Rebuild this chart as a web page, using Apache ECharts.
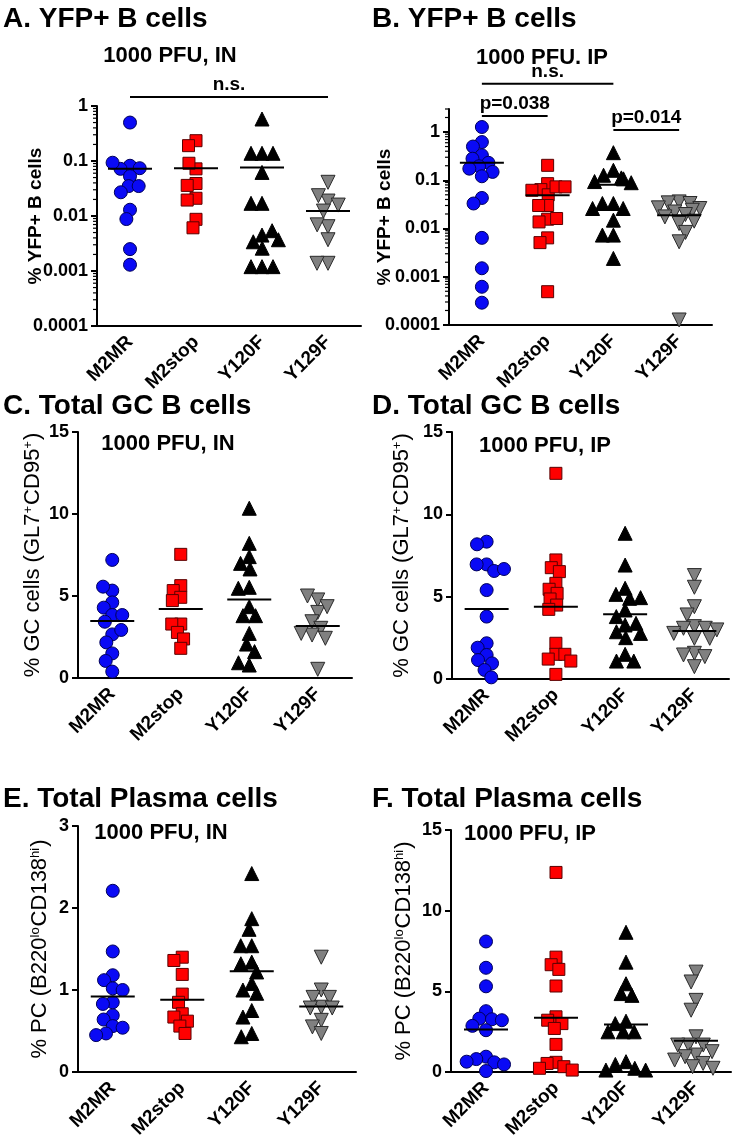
<!DOCTYPE html>
<html><head><meta charset="utf-8">
<script src="https://cdn.jsdelivr.net/npm/echarts@6/dist/echarts.min.js"></script>
<style>html,body{margin:0;padding:0;background:#fff}#c{width:738px;height:1148px}</style>
</head><body><div id="c"></div>
<script>
const categories = ['M2MR', 'M2stop', 'Y120F', 'Y129F'];

// A: % YFP+ B cells, 1000 PFU IN (log scale)
const yfpIN = [
  [0.50, 0.082, 0.072, 0.074, 0.093, 0.053, 0.035, 0.035, 0.027, 0.013, 0.0088, 0.0025, 0.0013],
  [0.234, 0.19, 0.072, 0.091, 0.039, 0.036, 0.021, 0.0195, 0.0087, 0.0061],
  [0.58, 0.138, 0.138, 0.138, 0.062, 0.017, 0.017, 0.0045, 0.0054, 0.0034, 0.0037, 0.0026, 0.0012, 0.0012, 0.0012],
  [0.041, 0.0187, 0.0234, 0.0158, 0.0123, 0.0064, 0.0069, 0.0037, 0.00138, 0.00138]
];
const yfpINMean = [0.072, 0.074, 0.076, 0.0123];

// B: % YFP+ B cells, 1000 PFU IP (log scale)
const yfpIP = [
  [1.27, 0.62, 0.50, 0.33, 0.28, 0.23, 0.195, 0.174, 0.149, 0.121, 0.043, 0.033, 0.0064, 0.0015, 0.00062, 0.00029],
  [0.204, 0.085, 0.064, 0.050, 0.073, 0.062, 0.073, 0.030, 0.030, 0.0156, 0.0137, 0.0161, 0.0064, 0.0051, 0.00049],
  [0.373, 0.161, 0.127, 0.112, 0.089, 0.094, 0.107, 0.033, 0.033, 0.026, 0.026, 0.0149, 0.0073, 0.0073, 0.0024],
  [0.0356, 0.034, 0.033, 0.0268, 0.026, 0.0239, 0.022, 0.0195, 0.0174, 0.0142, 0.0127, 0.0083, 0.0053, 0.000127]
];
const yfpIPMean = [0.232, 0.049, 0.081, 0.0188];

// C: % GC cells, 1000 PFU IN
const gcIN = [
  [7.2, 5.33, 5.57, 4.61, 4.29, 3.84, 3.84, 3.43, 2.66, 2.93, 2.17, 1.50, 1.04, 0.39],
  [7.54, 5.63, 5.33, 4.92, 4.72, 3.29, 3.29, 2.78, 2.38, 1.81],
  [10.35, 8.21, 7.40, 6.99, 6.65, 5.53, 5.47, 4.35, 3.80, 3.80, 2.72, 2.07, 1.61, 0.79, 0.93],
  [4.76, 5.0, 4.0, 4.35, 3.43, 3.03, 2.62, 2.42, 2.72, 0.53]
];
const gcINMean = [3.48, 4.21, 4.78, 3.17];

// D: % GC cells, 1000 PFU IP
const gcIP = [
  [8.34, 8.18, 6.96, 6.96, 6.56, 6.68, 5.40, 3.79, 2.17, 1.90, 1.46, 1.15, 0.95, 0.55, 0.10],
  [12.49, 7.23, 6.76, 6.52, 5.81, 5.45, 5.20, 4.86, 4.49, 4.23, 2.17, 1.50, 1.21, 1.50, 1.09, 0.28],
  [8.85, 6.92, 5.51, 5.14, 4.90, 4.94, 4.19, 3.79, 3.28, 3.38, 2.87, 2.77, 2.51, 1.50, 1.09, 1.09],
  [6.28, 5.57, 4.39, 3.89, 3.18, 3.08, 3.08, 2.77, 2.47, 2.47, 2.98, 1.56, 1.46, 1.36, 0.75]
];
const gcIPMean = [4.25, 4.39, 3.93, 2.92];

// E: % PC, 1000 PFU IN
const pcIN = [
  [2.21, 1.47, 1.18, 1.12, 1.02, 1.00, 0.85, 0.83, 0.69, 0.64, 0.56, 0.54, 0.47, 0.45],
  [1.40, 1.36, 1.19, 0.95, 0.85, 0.71, 0.67, 0.62, 0.56, 0.47],
  [2.42, 1.87, 1.74, 1.54, 1.54, 1.34, 1.32, 1.22, 1.08, 1.00, 0.96, 0.75, 0.67, 0.47, 0.43],
  [1.40, 1.00, 0.91, 0.91, 0.79, 0.78, 0.78, 0.63, 0.55, 0.47]
];
const pcINMean = [0.92, 0.88, 1.23, 0.80];

// F: % PC, 1000 PFU IP
const pcIP = [
  [8.09, 6.46, 5.31, 3.77, 3.31, 3.27, 3.21, 2.86, 2.59, 0.95, 0.80, 0.60, 0.47, 0.64, 0.06],
  [12.37, 7.12, 6.65, 6.36, 5.33, 3.42, 3.21, 3.00, 2.70, 1.71, 0.60, 0.53, 0.33, 0.23, 0.12],
  [8.66, 6.81, 5.47, 4.86, 4.75, 3.15, 3.00, 2.49, 2.49, 2.49, 0.64, 0.47, 0.23, 0.12, 0.12],
  [6.19, 5.58, 4.44, 3.83, 2.18, 1.67, 1.67, 1.67, 1.26, 1.05, 0.95, 0.74, 0.53, 0.33, 0.23]
];
const pcIPMean = [2.63, 3.37, 2.94, 1.93];

// significance annotations (panel index, from, to, y in data units, label)
const sigBars = [
  [0, 'M2MR', 'Y129F', 1.45, 'n.s.'],
  [1, 'M2MR', 'Y120F', 10, 'n.s.'],
  [1, 'M2MR', 'M2stop', 2.15, 'p=0.038'],
  [1, 'Y120F', 'Y129F', 1.1, 'p=0.014']
];

const panelTitles = ['A. YFP+ B cells', 'B. YFP+ B cells', 'C. Total GC B cells', 'D. Total GC B cells', 'E. Total Plasma cells', 'F. Total Plasma cells'];
const subTitles = ['1000 PFU, IN', '1000 PFU. IP', '1000 PFU, IN', '1000 PFU, IP', '1000 PFU, IN', '1000 PFU, IP'];

const FONT = '"Liberation Sans", Arial, Helvetica, sans-serif';
const groupStyle = [
  { symbol: 'circle', size: 13, rotate: 0, color: '#0a0af5', border: '#00005a' },
  { symbol: 'rect', size: 12, rotate: 0, color: '#ff0000', border: '#5a0000' },
  { symbol: 'triangle', size: 14, rotate: 0, color: '#000000', border: '#000000' },
  { symbol: 'triangle', size: 14, rotate: 180, color: '#808080', border: '#2a2a2a' }
];

const gcName = '% GC cells (GL7{sup|+}CD95{sup|+})';
const pcName = '% PC (B220{sup|lo}CD138{sup|hi})';
const panels = [
  { data: yfpIN, means: yfpINMean, log: true, min: 0.0001, max: 1, grid: { left: 97, top: 106, width: 264, height: 220 }, name: '% YFP+ B cells', nameGap: 52, bold: true, nameSize: 19, titlePos: [3, 19], subPos: [170, 56] },
  { data: yfpIP, means: yfpIPMean, log: true, min: 0.0001, max: 3, grid: { left: 449, top: 109, width: 263, height: 216 }, name: '% YFP+ B cells', nameGap: 55, bold: true, nameSize: 19, titlePos: [372, 19], subPos: [542, 58] },
  { data: gcIN, means: gcINMean, min: 0, max: 15, interval: 5, grid: { left: 78, top: 432, width: 274, height: 246 }, name: gcName, nameGap: 34, nameSize: 22, titlePos: [3, 406], subPos: [168, 444] },
  { data: gcIP, means: gcIPMean, min: 0, max: 15, interval: 5, grid: { left: 452, top: 432, width: 277, height: 247 }, name: gcName, nameGap: 39, nameSize: 22, titlePos: [372, 406], subPos: [545, 446] },
  { data: pcIN, means: pcINMean, min: 0, max: 3, interval: 1, grid: { left: 78, top: 826, width: 278, height: 246 }, name: pcName, nameGap: 27, nameSize: 22, titlePos: [3, 799], subPos: [161, 833] },
  { data: pcIP, means: pcIPMean, min: 0, max: 15, interval: 5, grid: { left: 451, top: 830, width: 280, height: 242 }, name: pcName, nameGap: 36, nameSize: 22, titlePos: [372, 799], subPos: [530, 834] }
];

const grids = [], xAxes = [], yAxes = [], series = [];
panels.forEach((p, i) => {
  grids.push(Object.assign({ outerBoundsMode: 'none', containLabel: false }, p.grid));
  xAxes.push({
    type: 'category', gridIndex: i, data: categories, boundaryGap: true,
    jitter: 60, jitterOverlap: false, jitterMargin: -3,
    axisLine: { onZero: false, lineStyle: { color: '#000', width: 2 } },
    axisTick: { alignWithLabel: true, length: 6, lineStyle: { color: '#000', width: 2 } },
    axisLabel: { interval: 0, rotate: 45, margin: 13, color: '#000', fontWeight: 'bold', fontSize: 19, fontFamily: FONT },
    splitLine: { show: false }
  });
  yAxes.push({
    type: p.log ? 'log' : 'value', logBase: 10, gridIndex: i, min: p.min, max: p.max,
    interval: p.interval,
    name: p.name, nameLocation: 'middle', nameGap: p.nameGap, nameMoveOverlap: false,
    nameTextStyle: {
      color: '#000', fontSize: p.nameSize, fontWeight: p.bold ? 'bold' : 'normal', fontFamily: FONT,
      rich: { sup: { fontSize: 13, verticalAlign: 'top', color: '#000', fontFamily: FONT, fontWeight: p.bold ? 'bold' : 'normal', padding: [0, 1, 0, 0] } }
    },
    axisLine: { show: true, onZero: false, lineStyle: { color: '#000', width: 2 } },
    axisTick: { show: true, length: 6, lineStyle: { color: '#000', width: 2 } },
    axisLabel: {
      color: '#000', fontWeight: 'bold', fontSize: 18, fontFamily: FONT, margin: 9,
      showMaxLabel: p.log && p.max !== 1 ? false : true,
      formatter: v => String(Number(Number(v).toPrecision(4)))
    },
    splitLine: { show: false }
  });
  p.data.forEach((vals, g) => {
    const st = groupStyle[g];
    series.push({
      type: 'scatter', xAxisIndex: i, yAxisIndex: i, z: 2,
      symbol: st.symbol, symbolSize: st.size, symbolRotate: st.rotate,
      itemStyle: { color: st.color, borderColor: st.border, borderWidth: 1, opacity: 1 },
      emphasis: { disabled: true },
      data: vals.map(v => [categories[g], v])
    });
  });
  series.push({
    type: 'custom', xAxisIndex: i, yAxisIndex: i, z: 5, silent: true,
    encode: { x: 0, y: 1 },
    data: p.means.map((m, g) => [g, m]),
    renderItem: (params, api) => {
      const c = api.coord([api.value(0), api.value(1)]);
      return { type: 'line', shape: { x1: c[0] - 22, y1: c[1], x2: c[0] + 22, y2: c[1] }, style: { stroke: '#000', lineWidth: 2 } };
    }
  });
});

const chart = echarts.init(document.getElementById('c'), null, { renderer: 'canvas' });
chart.setOption({
  animation: false,
  backgroundColor: '#fff',
  grid: grids, xAxis: xAxes, yAxis: yAxes, series: series
});

// overlay texts and annotations, positioned through the chart's own scales
const g = [];
function txt(x, y, text, font, align, vAlign) {
  g.push({ type: 'text', x: x, y: y, silent: true, z: 10,
    style: { text: text, font: font, fill: '#000', align: align, textAlign: align, verticalAlign: vAlign, textVerticalAlign: vAlign } });
}
panels.forEach((p, i) => {
  txt(p.titlePos[0], p.titlePos[1], panelTitles[i], 'bold 28px ' + FONT, 'left', 'middle');
  txt(p.subPos[0], p.subPos[1], subTitles[i], 'bold 22px ' + FONT, 'center', 'middle');
});
sigBars.forEach(([pi, from, to, yv, label]) => {
  const a = chart.convertToPixel({ xAxisIndex: pi, yAxisIndex: pi }, [from, yv]);
  const b = chart.convertToPixel({ xAxisIndex: pi, yAxisIndex: pi }, [to, yv]);
  g.push({ type: 'line', silent: true, z: 10, shape: { x1: a[0], y1: a[1], x2: b[0], y2: b[1] }, style: { stroke: '#000', lineWidth: 2 } });
  txt((a[0] + b[0]) / 2, a[1] - 3, label, 'bold 19px ' + FONT, 'center', 'bottom');
});
// minor log ticks
panels.forEach((p, i) => {
  if (!p.log) return;
  const x0 = p.grid.left;
  for (let k = -4; k <= 0; k++) {
    for (let m = 2; m <= 9; m++) {
      const v = m * Math.pow(10, k);
      if (v > p.max) continue;
      const y = chart.convertToPixel({ yAxisIndex: i }, v);
      g.push({ type: 'line', silent: true, z: 10, shape: { x1: x0 - 4, y1: y, x2: x0, y2: y }, style: { stroke: '#000', lineWidth: 1.2 } });
    }
  }
});
chart.setOption({ graphic: { elements: g } });
</script>
</body></html>
